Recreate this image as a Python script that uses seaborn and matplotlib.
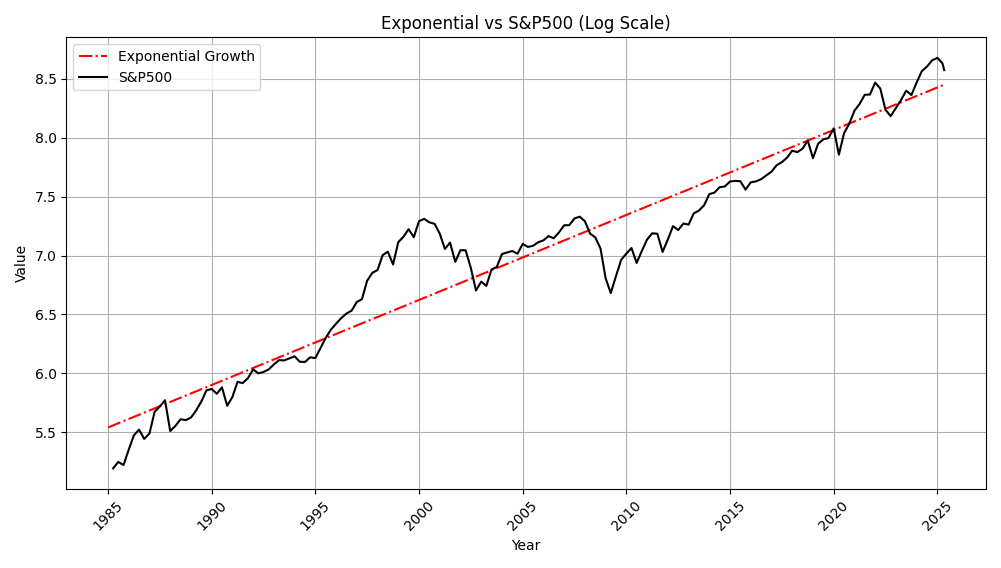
import numpy as np
import pandas as pd
import matplotlib.pyplot as plt
import seaborn as sns

# S&P500 quarter-end levels (approx), 1985 Q1 .. 2025 Q1, plus a last point
sp_levels = [
    180, 190, 185, 211,
    238, 250, 231, 242,
    291, 304, 321, 247,
    258, 273, 271, 277,
    294, 317, 349, 353,
    339, 358, 306, 330,
    375, 371, 387, 417,
    403, 408, 417, 435,
    451, 450, 458, 466,
    445, 444, 462, 459,
    500, 544, 584, 615,
    645, 670, 687, 740,
    757, 885, 947, 970,
    1101, 1133, 1017, 1229,
    1286, 1372, 1282, 1469,
    1498, 1454, 1436, 1320,
    1160, 1224, 1040, 1148,
    1147, 989, 815, 879,
    848, 974, 995, 1111,
    1126, 1140, 1114, 1211,
    1180, 1191, 1228, 1248,
    1294, 1270, 1335, 1418,
    1420, 1503, 1526, 1468,
    1322, 1280, 1166, 903,
    797, 919, 1057, 1115,
    1169, 1030, 1141, 1257,
    1325, 1320, 1131, 1257,
    1408, 1362, 1440, 1426,
    1569, 1606, 1681, 1848,
    1872, 1960, 1972, 2058,
    2067, 2063, 1920, 2043,
    2059, 2098, 2168, 2238,
    2362, 2423, 2519, 2673,
    2640, 2718, 2913, 2506,
    2834, 2941, 2976, 3230,
    2584, 3100, 3363, 3756,
    3972, 4297, 4307, 4766,
    4530, 3785, 3585, 3839,
    4109, 4450, 4288, 4769,
    5254, 5460, 5762, 5881,
    5611, 5300,
]
sp_dates = list(pd.date_range("1985-01-01", periods=len(sp_levels) - 1, freq="QE")) + [pd.Timestamp("2025-04-30")]
sp_years = [d.year + (d.dayofyear - 1) / 365.25 for d in sp_dates]

# Exponential growth endpoints (log value)
exp_years = [1985.0, 2025.3]
exp_values = [5.54, 8.45]

sp = pd.DataFrame({"Year": sp_years, "Value": np.log(sp_levels)})
ex = pd.DataFrame({"Year": exp_years, "Value": exp_values})

fig, ax = plt.subplots(figsize=(10.01, 5.68), dpi=100)
sns.lineplot(data=ex, x="Year", y="Value", color="red", linestyle="-.", label="Exponential Growth", ax=ax)
sns.lineplot(data=sp, x="Year", y="Value", color="black", label="S&P500", ax=ax)
ax.set_xticks(range(1985, 2026, 5))
plt.xticks(rotation=45)
ax.set_title("Exponential vs S&P500 (Log Scale)")
ax.set_xlabel("Year")
ax.set_ylabel("Value")
ax.grid(True)
ax.legend(loc="upper left")
plt.tight_layout()
plt.savefig("out.png")
